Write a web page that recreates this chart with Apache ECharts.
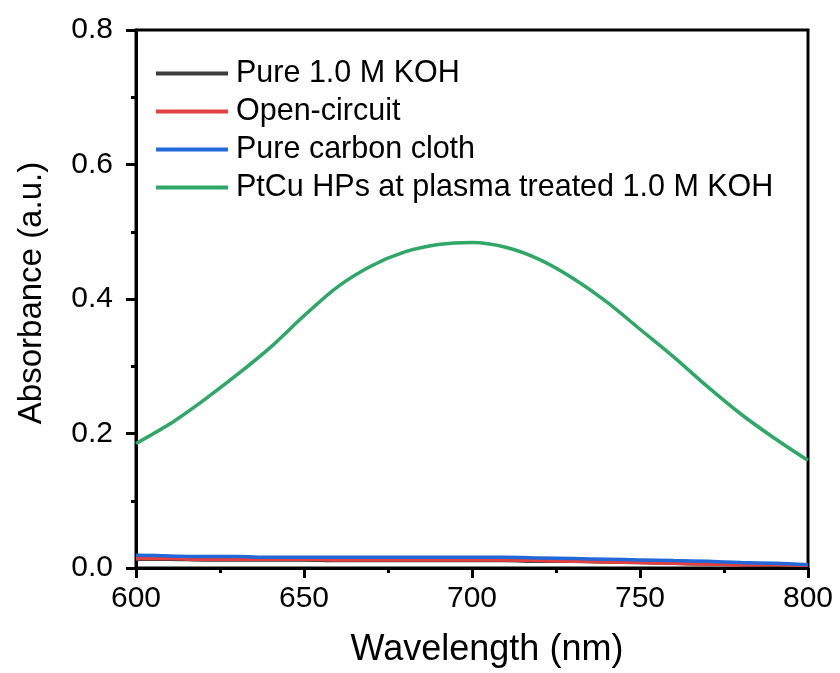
<!DOCTYPE html>
<html>
<head>
<meta charset="utf-8">
<script src="https://cdn.jsdelivr.net/npm/echarts@6/dist/echarts.min.js"></script>
<style>html,body{margin:0;padding:0;background:#fff}#c{width:840px;height:673px}</style>
</head>
<body>
<div id="c"></div>
<script>
const wavelength = [600,610,620,630,640,650,660,670,680,690,700,710,720,730,740,750,760,770,780,790,800];
const pureKOH     = [0.013,0.013,0.012,0.012,0.012,0.012,0.011,0.011,0.011,0.011,0.011,0.011,0.010,0.010,0.009,0.008,0.007,0.006,0.005,0.004,0.004];
const openCircuit = [0.014,0.014,0.013,0.013,0.013,0.013,0.012,0.012,0.012,0.012,0.012,0.012,0.011,0.010,0.009,0.008,0.007,0.006,0.005,0.005,0.004];
const carbonCloth = [0.019,0.018,0.017,0.017,0.016,0.016,0.016,0.016,0.016,0.016,0.016,0.016,0.015,0.014,0.013,0.012,0.011,0.010,0.008,0.007,0.005];
const ptcuPlasma  = [0.185,0.214,0.249,0.287,0.328,0.375,0.418,0.449,0.470,0.481,0.484,0.477,0.459,0.431,0.396,0.355,0.314,0.270,0.229,0.193,0.160];
const seriesNames = ['Pure 1.0 M KOH','Open-circuit','Pure carbon cloth','PtCu HPs at plasma treated 1.0 M KOH'];
const seriesColors = ['#3d3d3d','#e2413f','#2268d8','#2ea767'];
const yTicks = [0,0.2,0.4,0.6,0.8];
const xTicks = [600,650,700,750,800];

const allData = [pureKOH, openCircuit, carbonCloth, ptcuPlasma];
const font = 'Liberation Sans, Arial, sans-serif';

const chart = echarts.init(document.getElementById('c'));
chart.setOption({
  animation: false,
  backgroundColor: '#fff',
  grid: {left:136, right:32, top:30, bottom:103, show:true, borderColor:'#000', borderWidth:3, backgroundColor:'transparent'},
  legend: {
    orient:'vertical', left:151, top:53,
    itemWidth:72, itemHeight:4, itemGap:7,
    icon:'path://M0 0H72V4H0Z',
    textStyle:{fontFamily:font, fontSize:30.5, color:'#000', lineHeight:30.5, padding:[0,0,0,3]},
    data: seriesNames
  },
  xAxis: {
    type:'value', min:xTicks[0], max:xTicks[xTicks.length-1], interval:50,
    name:'Wavelength (nm)', nameLocation:'middle', nameGap:64,
    nameTextStyle:{fontFamily:font, fontSize:36, color:'#000', padding:[0,0,0,30]},
    axisLine:{show:true, onZero:false, lineStyle:{color:'#000', width:3}},
    axisTick:{show:true, inside:false, length:10, lineStyle:{color:'#000', width:3}},
    minorTick:{show:true, splitNumber:2, length:5, lineStyle:{color:'#000', width:3}},
    axisLabel:{fontFamily:font, fontSize:30, color:'#000', margin:16},
    splitLine:{show:false}
  },
  yAxis: {
    type:'value', min:yTicks[0], max:yTicks[yTicks.length-1], interval:0.2,
    name:'Absorbance (a.u.)', nameLocation:'middle', nameGap:88,
    nameTextStyle:{fontFamily:font, fontSize:33, color:'#000', padding:[0,0,0,12]},
    axisLine:{show:true, onZero:false, lineStyle:{color:'#000', width:3}},
    axisTick:{show:true, inside:false, length:10, lineStyle:{color:'#000', width:3}},
    minorTick:{show:true, splitNumber:2, length:5, lineStyle:{color:'#000', width:3}},
    axisLabel:{fontFamily:font, fontSize:30, color:'#000', margin:23, formatter:v=>v.toFixed(1)},
    splitLine:{show:false}
  },
  series: seriesNames.map((n,i)=>({
    name:n, type:'line', symbol:'none', smooth:0.3,
    color:seriesColors[i],
    lineStyle:{color:seriesColors[i], width:3.5},
    data: wavelength.map((w,j)=>[w, allData[i][j]]),
    z: 2+i
  }))
});
</script>
</body>
</html>
